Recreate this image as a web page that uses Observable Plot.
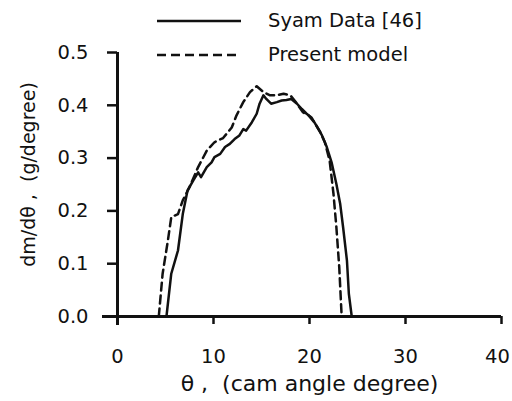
<!DOCTYPE html>
<html>
<head>
<meta charset="utf-8">
<script src="https://cdn.jsdelivr.net/npm/d3@7"></script>
<script src="https://cdn.jsdelivr.net/npm/@observablehq/plot@0.6"></script>
<style>
  html, body { margin: 0; padding: 0; background: #fff; }
  #wrap { position: relative; width: 512px; height: 401px; font-family: "DejaVu Sans", sans-serif; color: #111; }
  #legend { position: absolute; left: 0; top: 0; width: 512px; height: 70px; pointer-events: none; }
  .lg-row { position: absolute; left: 155px; height: 24px; display: flex; align-items: center; font-size: 19.5px; line-height: 24px; }
  .lg-row svg { margin-right: 27px; }
</style>
</head>
<body>
<div id="wrap">
  <div id="chart"></div>
  <div id="legend"></div>
</div>
<script>
// Syam Data [46]
const syamTheta = [5.1, 5.6, 6.3, 6.8, 7.3, 7.9, 8.4, 8.7, 9.3, 9.8, 10.1, 10.7, 11.2, 11.7, 12.2, 12.7, 13.1, 13.4, 14.0, 14.5, 14.8, 15.2, 15.5, 16.0, 16.6, 17.1, 17.6, 18.1, 18.7, 19.2, 19.7, 20.2, 20.7, 21.3, 21.8, 22.3, 22.8, 23.2, 23.5, 23.9, 24.1, 24.4];
const syamDm = [0, 0.081, 0.125, 0.194, 0.239, 0.258, 0.273, 0.264, 0.283, 0.292, 0.302, 0.308, 0.321, 0.327, 0.336, 0.343, 0.355, 0.352, 0.368, 0.384, 0.403, 0.419, 0.412, 0.403, 0.406, 0.409, 0.410, 0.412, 0.403, 0.393, 0.384, 0.377, 0.362, 0.343, 0.321, 0.292, 0.251, 0.213, 0.169, 0.106, 0.043, 0];
// Present model
const modelTheta = [4.3, 4.7, 5.25, 5.6, 6.3, 6.8, 7.5, 8.4, 9.3, 10.1, 11.0, 11.9, 12.4, 13.1, 13.8, 14.5, 15.2, 15.9, 16.6, 17.3, 18.0, 18.7, 19.3, 19.9, 20.5, 21.1, 21.6, 22.1, 22.5, 22.8, 23.1, 23.35];
const modelDm = [0, 0.081, 0.144, 0.188, 0.194, 0.22, 0.245, 0.283, 0.314, 0.33, 0.338, 0.358, 0.381, 0.406, 0.425, 0.436, 0.425, 0.419, 0.419, 0.422, 0.419, 0.403, 0.387, 0.381, 0.368, 0.35, 0.33, 0.295, 0.232, 0.169, 0.093, 0];

const xTicks = [0, 10, 20, 30, 40];
const yTicks = [0, 0.1, 0.2, 0.3, 0.4, 0.5];
const seriesNames = ["Syam Data [46]", "Present model"];
const xLabel = "θ ,  (cam angle degree)";
const yLabel = "dm/dθ ,  (g/degree)";

const syam = syamTheta.map((t, i) => ({theta: t, dm: syamDm[i]}));
const model = modelTheta.map((t, i) => ({theta: t, dm: modelDm[i]}));

const ink = "#111";
const lastX = xTicks[xTicks.length - 1];

const chart = Plot.plot({
  width: 512,
  height: 401,
  marginLeft: 117,
  marginRight: 11,
  marginTop: 52,
  marginBottom: 85,
  style: {fontFamily: "DejaVu Sans, sans-serif", fontSize: "19.5px", color: ink, background: "white", overflow: "visible"},
  x: {domain: [0, 40]},
  y: {domain: [0, 0.5]},
  marks: [
    Plot.axisX({ticks: xTicks, tickSize: 8, strokeWidth: 2.5, text: null, label: null}),
    Plot.axisX({ticks: xTicks.filter(t => t !== lastX), tickSize: 0, tickPadding: 33, tickFormat: d => String(d), label: null, fontSize: 19.5}),
    Plot.axisX({ticks: [lastX], tickSize: 0, tickPadding: 33, dx: -4, tickFormat: d => String(d), label: null, fontSize: 19.5}),
    Plot.axisY({ticks: yTicks, tickSize: 10, tickPadding: 19, strokeWidth: 2.5, tickFormat: d3.format(".1f"), label: null, fontSize: 19.5}),
    Plot.text([xLabel], {frameAnchor: "bottom", dy: 74, fontSize: 22, fill: ink}),
    Plot.text([yLabel], {frameAnchor: "left", textAnchor: "middle", rotate: -90, dx: -89, dy: -10, fontSize: 19, fill: ink}),
    Plot.ruleY([0], {stroke: ink, strokeWidth: 3, insetLeft: -15}),
    Plot.ruleX([0], {stroke: ink, strokeWidth: 3, insetBottom: -9}),
    Plot.line(syam, {x: "theta", y: "dm", stroke: ink, strokeWidth: 2.5}),
    Plot.line(model, {x: "theta", y: "dm", stroke: ink, strokeWidth: 2.5, strokeDasharray: "8,5"})
  ]
});
document.getElementById("chart").appendChild(chart);

// legend
const legend = document.getElementById("legend");
const styles = [null, "9,5"];
const tops = [9, 43];
seriesNames.forEach((name, i) => {
  const row = document.createElement("div");
  row.className = "lg-row";
  row.style.top = tops[i] + "px";
  row.innerHTML = `<svg width="86" height="10"><line x1="2" x2="86" y1="5" y2="5" stroke="${ink}" stroke-width="2.5" ${styles[i] ? `stroke-dasharray="${styles[i]}"` : ""}/></svg><span>${name}</span>`;
  legend.appendChild(row);
});
</script>
</body>
</html>
